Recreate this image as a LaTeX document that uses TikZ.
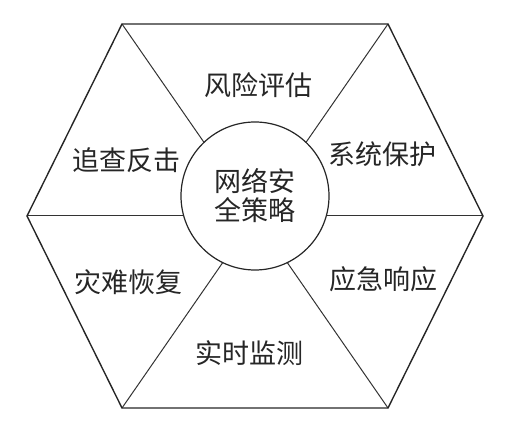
\documentclass[tikz,border=0pt]{standalone}
\usepackage{fontspec}
\newfontfamily\cjk{Noto Sans CJK SC}
\usetikzlibrary{calc}
\tikzset{
	rim/.style={line width=1.4pt, color=black!85, line join=miter},
	spoke/.style={line width=1pt, color=black!80},
	sector/.style={font=\cjk\fontsize{27}{29}\selectfont, color=black!85, inner sep=0pt},
	hub/.style={circle, draw, line width=1.2pt, color=black!85, fill=white, minimum size=148pt, inner sep=0pt, align=center, font=\cjk\fontsize{27}{29}\selectfont}
}

\begin{document}
\begin{tikzpicture}[x=1pt, y=1pt]
			%%%%% START %%%%%
			\useasboundingbox (0, 0) rectangle (513, 439);
			
			\coordinate (mid) at (255, 223);
			\coordinate (west) at (27, 223);
			\coordinate (east) at (483, 223);
			\coordinate (nw) at (122, 415);
			\coordinate (ne) at (388, 415);
			\coordinate (sw) at (122, 31);
			\coordinate (se) at (388, 31);
			
			\foreach \v in {west, east, nw, ne, sw, se}
				\draw[spoke] (mid) -- (\v);
			
			\draw[rim] (west) -- (nw) -- (ne) -- (east) -- (se) -- (sw) -- cycle;
			
			\node[hub] (core) at (255, 243) {网络安\\全策略};
			
			\node[sector] (risk) at (258, 354) {风险评估};
			\node[sector] (guard) at (382, 285) {系统保护};
			\node[sector] (trace) at (126, 279) {追查反击};
			\node[sector] (recover) at (128, 157) {灾难恢复};
			\node[sector] (respond) at (383, 160) {应急响应};
			\node[sector] (watch) at (249, 86) {实时监测};
			
			%%%%% END %%%%%
\end{tikzpicture}
\end{document}
